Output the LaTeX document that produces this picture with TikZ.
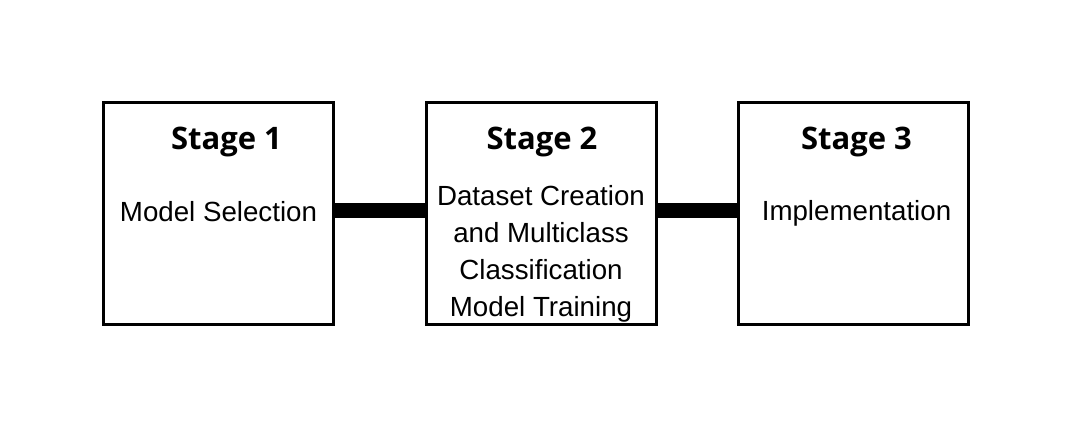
\documentclass[tikz,border=0pt]{standalone}
\usepackage{fontspec}
\setmainfont{Liberation Sans}
\newfontfamily\titlefont{Open Sans}
\usetikzlibrary{positioning}

\begin{document}
\begin{tikzpicture}[x=1pt, y=-1pt,
    stagebox/.style={draw, line width=3pt, minimum width=230pt, minimum height=222pt, inner sep=0pt},
    stagetitle/.style={anchor=base, font=\titlefont\bfseries\fontsize{31}{36}\selectfont, inner sep=0pt},
    stagetext/.style={anchor=base, align=center, font=\fontsize{27.7}{37}\selectfont, inner sep=0pt},
    link/.style={line width=15pt}]
% Canvas
\useasboundingbox (0,0) rectangle (1075,427);
% Boxes
\node[stagebox] (s1) at (218.5,213.5) {};
\node[stagebox] (s2) at (541,213.5) {};
\node[stagebox] (s3) at (853.5,213.5) {};
% Titles
\node[stagetitle] (t1) at ([xshift=8pt,yshift=-49pt]s1.north) {Stage 1};
\node[stagetitle] (t2) at ([xshift=1pt,yshift=-49pt]s2.north) {Stage 2};
\node[stagetitle] (t3) at ([xshift=3pt,yshift=-49pt]s3.north) {Stage 3};
% Descriptions
\node[stagetext] (d1) at ([yshift=-121pt]s1.north) {Model Selection};
\node[stagetext] (d2) at ([yshift=-215.5pt]s2.north) {Dataset Creation\\and Multiclass\\Classification\\Model Training};
\node[stagetext] (d3) at ([xshift=3pt,yshift=-120pt]s3.north) {Implementation};
% Links
\draw[link] ([yshift=3pt]s1.east) -- ([yshift=3pt]s2.west);
\draw[link] ([yshift=3pt]s2.east) -- ([yshift=3pt]s3.west);
\end{tikzpicture}
\end{document}
